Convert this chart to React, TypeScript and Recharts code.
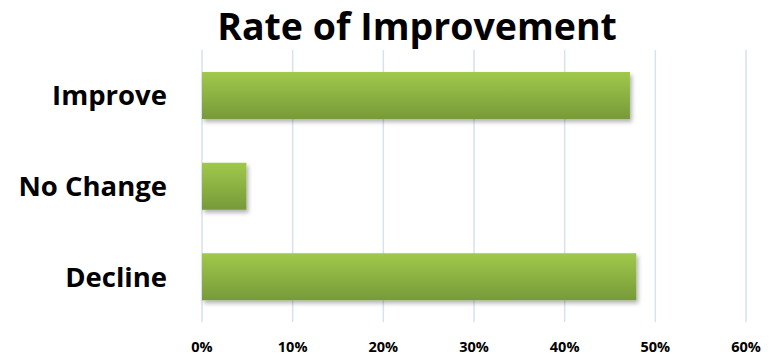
import React from 'react';
import { BarChart, Bar, XAxis, YAxis, CartesianGrid } from 'recharts';

const categories = ['Improve', 'No Change', 'Decline'];
const values = [0.472, 0.049, 0.479];
const xTicks = [0, 0.1, 0.2, 0.3, 0.4, 0.5, 0.6];

const data = categories.map((name, i) => ({ name, value: values[i] }));

const FONT = '"Open Sans", Lato, sans-serif';

const XTick = (props: any) => {
  const { x, y, payload } = props;
  return (
    <text x={x} y={y} dy={22} textAnchor="middle" fontFamily={FONT} fontWeight={700} fontSize={14.5} fill="#000">
      {`${Math.round(payload.value * 100)}%`}
    </text>
  );
};

const YTick = (props: any) => {
  const { y, payload } = props;
  return (
    <text x={167} y={y} dy={10} textAnchor="end" fontFamily={FONT} fontWeight={700} fontSize={27.5} fill="#000">
      {payload.value}
    </text>
  );
};

export default function App() {
  return (
    <div style={{ position: 'absolute', left: 0, top: 0, width: 780, height: 356, background: '#fff' }}>
      <BarChart
        width={780}
        height={356}
        data={data}
        layout="vertical"
        margin={{ top: 50, right: 34, bottom: 0, left: 0 }}
        style={{ position: 'absolute', left: 0, top: 0 }}
      >
        <defs>
          <linearGradient id="barGrad" x1="0" y1="0" x2="0" y2="1">
            <stop offset="0%" stopColor="#a0c94b" />
            <stop offset="100%" stopColor="#779a3a" />
          </linearGradient>
          <filter id="barShadow" x="-10%" y="-20%" width="130%" height="160%">
            <feDropShadow dx="2" dy="3" stdDeviation="2" floodColor="#000" floodOpacity="0.3" />
          </filter>
        </defs>
        <CartesianGrid horizontal={false} vertical stroke="#d6e2f2" strokeWidth={1.5} />
        <XAxis
          type="number"
          domain={[0, 0.6]}
          ticks={xTicks}
          axisLine={false}
          tickLine={false}
          height={34}
          tick={<XTick />}
          interval={0}
        />
        <YAxis
          type="category"
          dataKey="name"
          width={202}
          axisLine={false}
          tickLine={false}
          tick={<YTick />}
        />
        <Bar dataKey="value" barSize={47} fill="url(#barGrad)" filter="url(#barShadow)" isAnimationActive={false} />
      </BarChart>
      <div
        style={{
          position: 'absolute',
          left: 0,
          width: 834,
          top: 1,
          textAlign: 'center',
          fontFamily: FONT,
          fontWeight: 700,
          fontSize: 37.5,
          lineHeight: '50px',
          color: '#000',
          whiteSpace: 'nowrap',
        }}
      >
        Rate of Improvement
      </div>
    </div>
  );
}
